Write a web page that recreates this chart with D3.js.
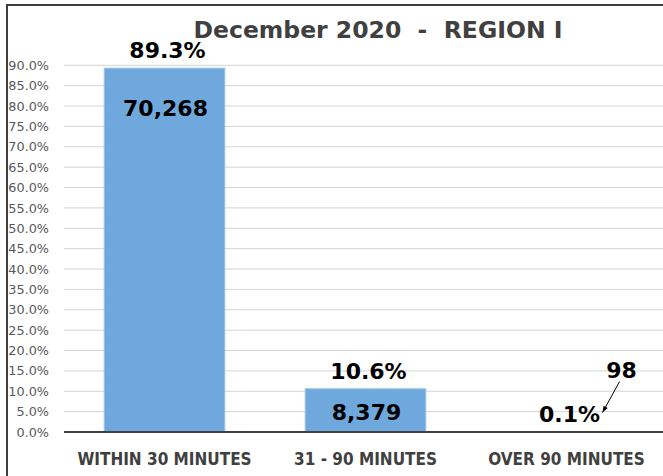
<!DOCTYPE html>
<html><head><meta charset="utf-8">
<script src="https://cdn.jsdelivr.net/npm/d3@7"></script>
<style>html,body{margin:0;padding:0;background:#fff;overflow:hidden}</style>
</head><body>
<script>
const title = "December 2020  -  REGION I";
const categories = ["WITHIN 30 MINUTES", "31 - 90 MINUTES", "OVER 90 MINUTES"];
const percents = [0.893, 0.106, 0.001];
const counts = [70268, 8379, 98];
const yTicks = [0,0.05,0.10,0.15,0.20,0.25,0.30,0.35,0.40,0.45,0.50,0.55,0.60,0.65,0.70,0.75,0.80,0.85,0.90];

const W = 663, H = 476;
const svg = d3.select("body").append("svg").attr("width", W).attr("height", H);
const mLeft = 64, mRight = 667, mTop = 65.3, mBottom = 432;

const x = d3.scaleBand().domain(categories).range([mLeft, mRight]).paddingInner(0.4).paddingOuter(0.2);
const y = d3.scaleLinear().domain([0, 0.9]).range([mBottom, mTop]);

// frame
svg.append("path").attr("d", `M7,${H} L7,5 L${W},5`).attr("fill","none").attr("stroke","#3f3f3f").attr("stroke-width",2);

// grid
svg.append("g").selectAll("line").data(yTicks.filter(d=>d>0)).join("line")
  .attr("x1", mLeft).attr("x2", W).attr("y1", d=>y(d)).attr("y2", d=>y(d))
  .attr("stroke", "#d4d4d4").attr("stroke-width", 1);

// y axis labels
const yAxis = d3.axisLeft(y).tickValues(yTicks).tickFormat(d3.format(".1%")).tickSize(0).tickPadding(15);
const ya = svg.append("g").attr("transform", `translate(${mLeft},0)`).call(yAxis);
ya.select(".domain").remove();
ya.selectAll("text").attr("font-family","DejaVu Sans, sans-serif").attr("font-size","12.8px").attr("fill","#595959");

// bars
svg.append("g").selectAll("rect").data(categories).join("rect")
  .attr("x", d=>x(d)).attr("width", x.bandwidth())
  .attr("y", (d,i)=>y(percents[i])).attr("height", (d,i)=>mBottom - y(percents[i]))
  .attr("fill", "#6fa8dc").attr("stroke","#9cc3e6").attr("stroke-width",1);

// baseline
svg.append("line").attr("x1", mLeft).attr("x2", W).attr("y1", mBottom).attr("y2", mBottom)
  .attr("stroke","#404040").attr("stroke-width",2.2);

// x labels
const xAxis = d3.axisBottom(x).tickSize(0).tickPadding(20);
const xa = svg.append("g").attr("transform", `translate(0,${mBottom})`).call(xAxis);
xa.select(".domain").remove();
xa.selectAll("text").attr("font-family","DejaVu Sans, sans-serif").attr("font-weight","bold")
  .attr("font-stretch","condensed").style("font-stretch","condensed")
  .attr("font-size","17px").attr("fill","#404040").attr("dy","0.75em");

// title
svg.append("text").attr("x", 378).attr("y", 37.5).attr("text-anchor","middle")
  .attr("font-family","DejaVu Sans, sans-serif").attr("font-weight","bold").attr("font-size","23.5px")
  .style("white-space","pre").attr("xml:space","preserve")
  .attr("fill","#404040").text(title);

const fmtPct = d3.format(".1%"), fmtCnt = d3.format(",");
const lab = svg.append("g").attr("font-family","DejaVu Sans, sans-serif").attr("font-weight","bold")
  .attr("font-size","22px").attr("fill","#000").attr("text-anchor","middle");

// percentage labels
lab.selectAll("text.p").data(categories).join("text").attr("class","p")
  .attr("x", d=>x(d)+x.bandwidth()/2 + 3).attr("y",(d,i)=>y(percents[i]) - 10)
  .text((d,i)=>fmtPct(percents[i]));

// count labels: inside bar when tall enough, otherwise outside with arrow
categories.forEach((c,i)=>{
  const cx = x(c)+x.bandwidth()/2, yt = y(percents[i]);
  if (mBottom - yt > 30) {
    lab.append("text").attr("x", cx + 1).attr("y", Math.min(yt+48, (yt+mBottom)/2+10)).text(fmtCnt(counts[i]));
  } else {
    const lx = cx + 55;
    lab.append("text").attr("x", lx).attr("y", yt - 54).text(fmtCnt(counts[i]));
    const x1 = lx - 2, y1 = yt - 50, x2 = cx + 36, y2 = yt - 19;
    svg.append("line").attr("x1",x1).attr("y1",y1).attr("x2",x2).attr("y2",y2).attr("stroke","#000").attr("stroke-width",1);
    const ang = Math.atan2(y2-y1, x2-x1), L = 7;
    const p = [[x2,y2],[x2 - L*Math.cos(ang-0.35), y2 - L*Math.sin(ang-0.35)],[x2 - L*Math.cos(ang+0.35), y2 - L*Math.sin(ang+0.35)]];
    svg.append("path").attr("d", d3.line()(p)+"Z").attr("fill","#000");
  }
});
</script>
</body></html>
